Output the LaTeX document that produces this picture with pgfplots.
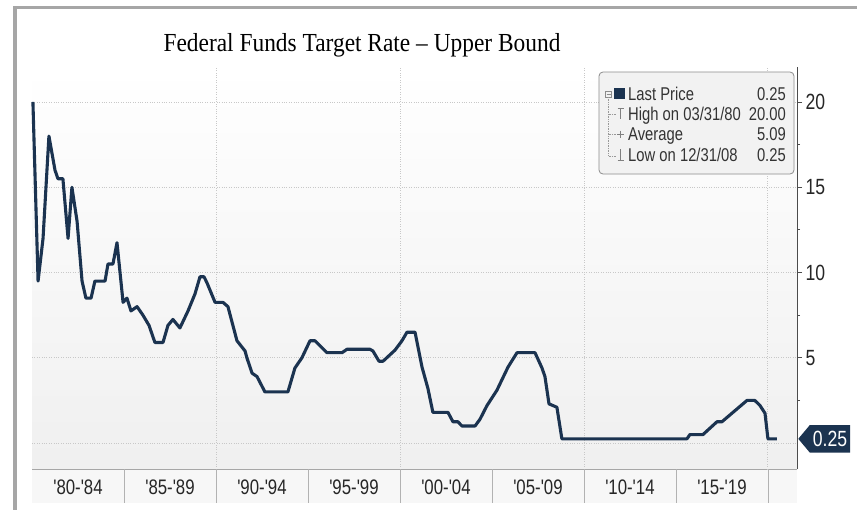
\documentclass[border=0pt]{standalone}
\usepackage{pgfplots}
\pgfplotsset{compat=1.18}
\usepackage{pgfplotstable}
\usepackage{fontspec}
\setmainfont{Liberation Serif}
\newfontfamily\titlefont[FakeStretch=0.9]{Liberation Serif}
\newfontfamily\narrowsans[FakeStretch=0.8]{Liberation Sans}
\usetikzlibrary{shapes.symbols}
\definecolor{navy}{HTML}{1B3350}
\definecolor{framegray}{HTML}{A6A6A6}
\definecolor{gridgray}{HTML}{C8C8C8}
\definecolor{legtext}{HTML}{333333}

\pgfplotstableread{
year rate
1980.05 20
1980.33 9.5
1980.60 12
1980.92 18
1981.25 16
1981.41 15.5
1981.68 15.5
1981.96 12
1982.17 15
1982.45 13
1982.72 9.5
1982.93 8.5
1983.21 8.5
1983.42 9.5
1983.97 9.5
1984.13 10.5
1984.40 10.5
1984.62 11.75
1984.95 8.25
1985.16 8.5
1985.38 7.75
1985.71 8
1986.03 7.5
1986.36 6.9
1986.68 5.9
1987.12 5.9
1987.39 6.9
1987.66 7.25
1988.04 6.75
1988.48 7.75
1988.86 8.75
1989.13 9.75
1989.35 9.75
1989.51 9.4
1989.95 8.25
1990.38 8.25
1990.65 8
1991.14 6
1991.58 5.4
1991.68 5.0
1991.96 4.1
1992.23 3.9
1992.66 3.0
1993.91 3.0
1994.29 4.4
1994.67 5.0
1995.11 6.0
1995.38 6.0
1996.03 5.3
1996.85 5.3
1997.12 5.5
1998.37 5.5
1998.53 5.4
1998.86 4.8
1999.08 4.8
1999.73 5.45
2000.11 6.0
2000.38 6.5
2000.82 6.5
2001.20 4.45
2001.52 3.2
2001.79 1.8
2002.61 1.8
2002.88 1.25
2003.15 1.25
2003.37 1.0
2004.08 1.0
2004.35 1.4
2004.73 2.2
2005.27 3.1
2005.87 4.45
2006.36 5.3
2007.34 5.3
2007.72 4.4
2007.88 3.9
2008.10 2.3
2008.53 2.1
2008.80 0.25
2015.60 0.25
2015.76 0.5
2016.47 0.5
2017.23 1.25
2017.50 1.25
2018.86 2.5
2019.29 2.5
2019.57 2.2
2019.84 1.75
2020.00 0.25
2020.49 0.25
}\ffr

\begin{document}
\begin{tikzpicture}
\path[use as bounding box] (0pt,0pt) rectangle (857pt,-517pt);
% outer frame
\fill[framegray] (13pt,-6pt) rectangle (857pt,-9pt);
\fill[framegray] (13pt,-6pt) rectangle (17pt,-510pt);
% title
\node[font=\titlefont\fontsize{26}{28}\selectfont] at (362pt,-45pt) {Federal Funds Target Rate – Upper Bound};
% label band
\fill[black!3] (32pt,-469pt) rectangle (797pt,-503pt);

\begin{axis}[
  at={(32pt,-67pt)}, anchor=north west,
  scale only axis, width=765pt, height=402pt,
  xmin=1980, xmax=2021.58, ymin=-1.52, ymax=22.05,
  clip=false,
  axis background/.style={shade, top color=white, bottom color=black!6},
  axis x line*=bottom, axis y line*=right,
  x axis line style={black!35, line width=0.8pt},
  y axis line style={black!70, line width=0.8pt},
  xtick={1982.5,1987.5,1992.5,1997.5,2002.5,2007.5,2012.5,2017.5},
  xticklabels={'80-'84,'85-'89,'90-'94,'95-'99,'00-'04,'05-'09,'10-'14,'15-'19},
  major x tick style={draw=none},
  xticklabel style={font=\narrowsans\fontsize{21}{21}\selectfont, text=black!85, yshift=-2pt},
  ytick={5,10,15,20},
  minor ytick={2.5,7.5,12.5,17.5},
  tick align=outside, major tick length=5pt, minor tick length=3pt,
  y tick style={black!70, line width=0.8pt},
  yticklabel style={font=\narrowsans\fontsize{22}{22}\selectfont, text=black!85},
  /pgf/number format/assume math mode=true,
  ymajorgrids=true,
  major grid style={gridgray, dotted, line width=0.9pt},
  extra y ticks={0}, extra y tick labels={},
  extra y tick style={major tick length=0pt},
  extra x ticks={1990,2000,2010,2020}, extra x tick labels={},
  extra x tick style={xmajorgrids=true, major tick length=0pt},
]
\addplot[navy, line width=3.1pt, line join=round] table[x=year, y=rate] {\ffr};
\pgfplotsinvokeforeach{1985,1990,1995,2000,2005,2010,2015,2020}{
  \draw[black!30, line width=0.8pt] (axis cs:#1,-1.52) -- ++(0pt,-34pt);
}
\node[signal, signal to=west, signal pointer angle=100, fill=navy, text=white,
      font=\narrowsans\fontsize{22}{22}\selectfont, anchor=west,
      inner xsep=3pt, inner ysep=6pt, xshift=1pt] at (axis cs:2021.58,0.25) {0.25};
\end{axis}

% legend box
\draw[black!45, fill=black!5, rounded corners=4pt, line width=0.8pt] (599pt,-72pt) rectangle (794pt,-174pt);
\begin{scope}[every node/.style={inner sep=0pt, font=\narrowsans\fontsize{18.5}{18.5}\selectfont, text=legtext}]
\node[anchor=base west] at (628pt,-100pt) {Last Price};
\node[anchor=base east] at (786pt,-100pt) {0.25};
\node[anchor=base west] at (628pt,-120pt) {High on 03/31/80};
\node[anchor=base east] at (786pt,-120pt) {20.00};
\node[anchor=base west] at (628pt,-140pt) {Average};
\node[anchor=base east] at (786pt,-140pt) {5.09};
\node[anchor=base west] at (628pt,-161pt) {Low on 12/31/08};
\node[anchor=base east] at (786pt,-161pt) {0.25};
\end{scope}
\fill[navy] (614pt,-88pt) rectangle (625pt,-99pt);
\draw[black!45, line width=0.6pt] (605.5pt,-91pt) rectangle (611.5pt,-97pt);
\draw[black!45, line width=0.6pt] (606.5pt,-94pt) -- (610.5pt,-94pt);
\draw[black!40, densely dotted, line width=0.7pt] (608.5pt,-97pt) -- (608.5pt,-156pt);
\draw[black!40, densely dotted, line width=0.7pt] (608.5pt,-114pt) -- (616pt,-114pt)
  (608.5pt,-134pt) -- (616pt,-134pt) (608.5pt,-156pt) -- (616pt,-156pt);
\draw[black!50, line width=0.7pt] (617.5pt,-108pt) -- (623.5pt,-108pt) (620.5pt,-108pt) -- (620.5pt,-119pt);
\draw[black!50, line width=0.7pt] (617pt,-134pt) -- (624pt,-134pt) (620.5pt,-130.5pt) -- (620.5pt,-137.5pt);
\draw[black!50, line width=0.7pt] (620.5pt,-149pt) -- (620.5pt,-160pt) (617.5pt,-160pt) -- (623.5pt,-160pt);
\end{tikzpicture}
\end{document}
